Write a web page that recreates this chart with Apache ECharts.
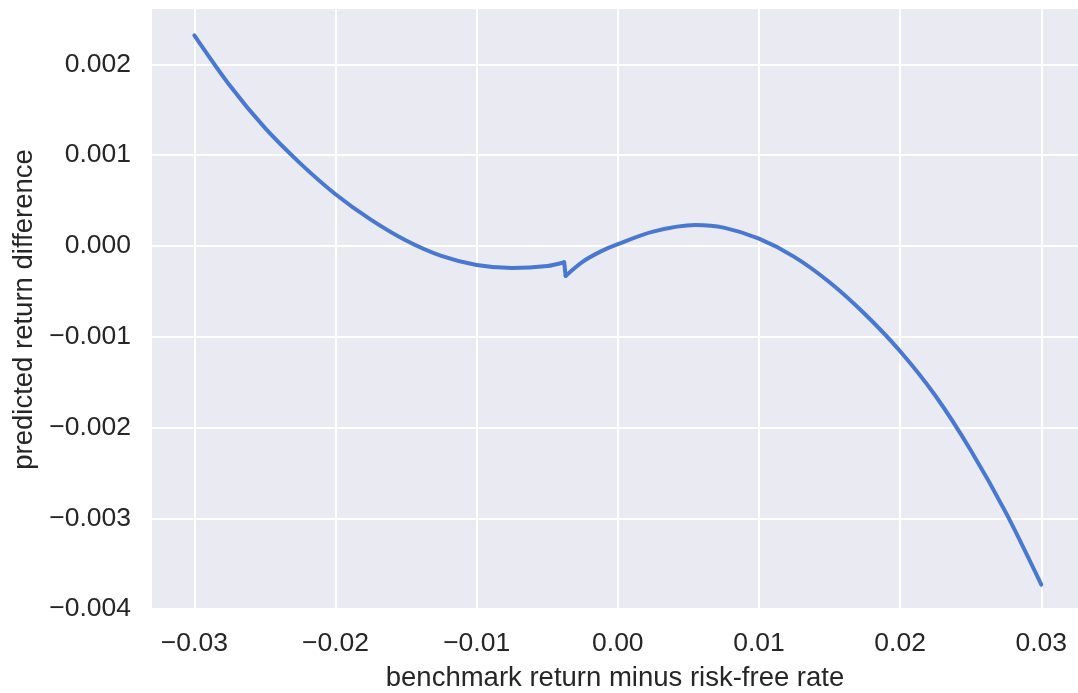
<!DOCTYPE html>
<html>
<head>
<meta charset="utf-8">
<script src="https://cdn.jsdelivr.net/npm/echarts@6/dist/echarts.min.js"></script>
<style>
html,body{margin:0;padding:0;background:#ffffff;}
#chart{width:1078px;height:693px;}
</style>
</head>
<body>
<div id="chart"></div>
<script>
// benchmark return minus risk-free rate (x) and predicted return difference (y)
// left branch (before the small jump)
var xLeft = [-0.0300, -0.0275, -0.0250, -0.0225, -0.0200, -0.0175, -0.0150, -0.0125, -0.0100,
             -0.0075, -0.0050, -0.0038];
var yLeft = [0.00232, 0.00177, 0.00130, 0.00091, 0.00057, 0.00029, 0.00006, -0.00011, -0.00021,
             -0.000243, -0.000222, -0.00018];
// right branch (after the jump)
var xRight = [-0.0037, -0.0025, -0.0012, 0.0000, 0.0025, 0.0055, 0.0075, 0.0100, 0.0125, 0.0150,
              0.0175, 0.0200, 0.0225, 0.0250, 0.0275, 0.0300];
var yRight = [-0.00033, -0.000175, -0.00006, 0.00002, 0.000158, 0.00023, 0.000202, 0.00008, -0.00012, -0.0004,
              -0.00075, -0.00116, -0.00165, -0.00225, -0.00294, -0.00373];
var xTicks = [-0.03, -0.02, -0.01, 0.00, 0.01, 0.02, 0.03];
var yTicks = [-0.004, -0.003, -0.002, -0.001, 0.000, 0.001, 0.002];
var xLabel = 'benchmark return minus risk-free rate';
var yLabel = 'predicted return difference';

function pairs(xs, ys) { return xs.map(function (x, i) { return [x, ys[i]]; }); }
var leftPts = pairs(xLeft, yLeft);
var rightPts = pairs(xRight, yRight);
// the jump joins the last left point and the first right point
var jumpPts = [leftPts[leftPts.length - 1], rightPts[0]];

function fmt(v, d) {
  var s = Math.abs(v) < 1e-12 ? (0).toFixed(d) : v.toFixed(d);
  return s.replace('-', '\u2212');
}
var textColor = '#262626';
var font = 'Liberation Sans, Arial, sans-serif';
var lineColor = '#4878D0';
function lineSeries(data, smooth) {
  return {
    type: 'line', data: data, showSymbol: false, smooth: smooth,
    lineStyle: {color: lineColor, width: 4, cap: 'round', join: 'round'},
    itemStyle: {color: lineColor}
  };
}

var chart = echarts.init(document.getElementById('chart'), null, {renderer: 'canvas'});
chart.setOption({
  animation: false,
  backgroundColor: '#ffffff',
  grid: {
    left: 152, top: 9, width: 926, height: 601,
    outerBoundsMode: 'none', containLabel: false,
    show: true, backgroundColor: '#EAEAF2', borderWidth: 0
  },
  xAxis: {
    type: 'value',
    min: -0.0330, max: 0.0326,
    name: xLabel,
    nameLocation: 'middle',
    nameGap: 54,
    nameTextStyle: {fontFamily: font, fontSize: 27.5, color: textColor},
    axisLine: {show: false},
    axisTick: {show: false, customValues: xTicks},
    axisLabel: {
      customValues: xTicks,
      fontFamily: font, fontSize: 26.5, color: textColor, margin: 20,
      formatter: function (v) { return fmt(v, 2); }
    },
    splitLine: {show: true, lineStyle: {color: '#ffffff', width: 2}}
  },
  yAxis: {
    type: 'value',
    min: -0.00401, max: 0.00261,
    name: yLabel,
    nameLocation: 'middle',
    nameGap: 110,
    nameRotate: 90,
    nameTextStyle: {fontFamily: font, fontSize: 27.5, color: textColor},
    axisLine: {show: false},
    axisTick: {show: false, customValues: yTicks},
    axisLabel: {
      customValues: yTicks,
      fontFamily: font, fontSize: 26.5, color: textColor, margin: 21,
      formatter: function (v) { return fmt(v, 3); }
    },
    splitLine: {show: true, lineStyle: {color: '#ffffff', width: 2}}
  },
  series: [
    lineSeries(leftPts, 0.3),
    lineSeries(jumpPts, false),
    lineSeries(rightPts, 0.3)
  ]
});
</script>
</body>
</html>
